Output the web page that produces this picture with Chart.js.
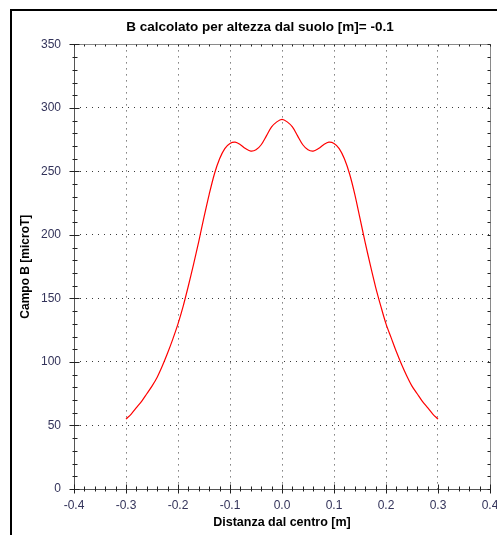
<!DOCTYPE html>
<html>
<head>
<meta charset="utf-8">
<script src="https://cdn.jsdelivr.net/npm/chart.js@4.4.0/dist/chart.umd.min.js"></script>
<style>
  html, body { margin: 0; padding: 0; background: #fff; overflow: hidden; }
  #cornice { position: absolute; left: 10px; top: 9px; width: 600px; height: 600px;
             border-left: 2px solid #000; border-top: 2px solid #000; }
  #grafico { position: absolute; left: 0; top: 0; }
</style>
</head>
<body>
<div id="cornice"></div>
<canvas id="grafico" width="520" height="535"></canvas>
<script>
// distanza dal centro [m]
const distanze = [
  -0.30, -0.29, -0.28, -0.27, -0.26, -0.25, -0.24, -0.23, -0.22, -0.21,
  -0.20, -0.19, -0.18, -0.17, -0.16, -0.15, -0.14, -0.13, -0.12, -0.11,
  -0.10, -0.09, -0.08, -0.07, -0.06, -0.05, -0.04, -0.03, -0.02, -0.01,
   0.00,
   0.01,  0.02,  0.03,  0.04,  0.05,  0.06,  0.07,  0.08,  0.09,  0.10,
   0.11,  0.12,  0.13,  0.14,  0.15,  0.16,  0.17,  0.18,  0.19,  0.20,
   0.21,  0.22,  0.23,  0.24,  0.25,  0.26,  0.27,  0.28,  0.29,  0.30
];
// campo B [microT]
const campoB = [
  55, 59, 64, 69, 75, 81, 88, 97, 107, 118,
  130, 144, 160, 177, 195, 214, 232, 248, 260, 268,
  272, 273, 271, 268, 266, 267, 271, 278, 285, 289,
  291,
  289, 285, 278, 271, 267, 266, 268, 271, 273, 272,
  268, 260, 248, 232, 213, 194, 176, 159, 144, 130,
  119, 108, 98, 89, 81, 75, 69, 64, 59, 55
];

const titolo = 'B calcolato per altezza dal suolo [m]= -0.1';
const titoloX = 'Distanza dal centro [m]';
const titoloY = 'Campo B [microT]';

const xMin = -0.4, xMax = 0.4, xPasso = 0.02;
const yMin = 0, yMax = 350, yPasso = 10;

const font = 'Liberation Sans';
const coloreTick = '#33335a';

const isMaggioreX = v => Math.abs(Math.round(v * 100)) % 10 === 0;
const isMaggioreY = v => Math.round(v) % 50 === 0;

// assi, bordi e tacche come nel grafico originale
const assiPlugin = {
  id: 'assi',
  afterDraw(chart) {
    const { ctx, chartArea: a, scales: { x, y } } = chart;
    const top = Math.round(a.top) + 0.5, bottom = Math.round(a.bottom) + 0.5;
    const left = Math.round(a.left) + 0.5, right = Math.round(a.right) + 0.5;
    ctx.save();
    ctx.lineWidth = 1;
    ctx.strokeStyle = '#8a8a8a';
    ctx.beginPath();
    ctx.moveTo(left, top); ctx.lineTo(right, top); ctx.lineTo(right, bottom);
    ctx.stroke();
    ctx.strokeStyle = '#555';
    ctx.beginPath();
    ctx.moveTo(left, top); ctx.lineTo(left, bottom); ctx.lineTo(right, bottom);
    ctx.stroke();

    ctx.strokeStyle = '#222';
    ctx.beginPath();
    x.ticks.forEach(t => {
      const px = Math.round(x.getPixelForValue(t.value)) + 0.5;
      const m = isMaggioreX(t.value);
      ctx.moveTo(px, bottom + (m ? 4 : 2)); ctx.lineTo(px, bottom - (m ? 5 : 3));
      ctx.moveTo(px, top); ctx.lineTo(px, top + 2);
    });
    y.ticks.forEach(t => {
      const py = Math.round(y.getPixelForValue(t.value)) + 0.5;
      const m = isMaggioreY(t.value);
      ctx.moveTo(left - (m ? 5 : 2), py); ctx.lineTo(left + (m ? 5 : 3), py);
      ctx.moveTo(right, py); ctx.lineTo(right - 3, py);
    });
    ctx.stroke();
    ctx.restore();
  }
};

new Chart(document.getElementById('grafico'), {
  type: 'line',
  data: {
    datasets: [{
      data: distanze.map((d, i) => ({ x: d, y: campoB[i] })),
      borderColor: '#ff0000',
      borderWidth: 1.2,
      pointRadius: 0,
      tension: 0.3,
      fill: false
    }]
  },
  options: {
    responsive: false,
    animation: false,
    layout: { padding: { left: 30, right: 30, top: 0, bottom: 0 } },
    plugins: {
      legend: { display: false },
      tooltip: { enabled: false },
      title: {
        display: true,
        text: titolo,
        color: '#000',
        font: { family: font, size: 13.5, weight: 'bold' },
        padding: { top: 19, bottom: 9.2 }
      }
    },
    scales: {
      x: {
        type: 'linear',
        min: xMin,
        max: xMax,
        afterFit: s => { s.height = 46; },
        ticks: {
          stepSize: xPasso,
          autoSkip: false,
          maxRotation: 0,
          padding: 9,
          color: coloreTick,
          font: { family: font, size: 12 },
          callback: v => isMaggioreX(v) ? v.toFixed(1) : ''
        },
        grid: {
          drawTicks: false,
          lineWidth: 1,
          color: c => (c.tick && isMaggioreX(c.tick.value) && Math.abs(Math.round(c.tick.value * 100)) !== 40) ? '#3a3a3a' : 'rgba(0,0,0,0)'
        },
        border: { display: false, dash: [1, 5] },
        title: {
          display: true,
          text: titoloX,
          color: '#000',
          font: { family: font, size: 12.5, weight: 'bold' },
          padding: { top: 0, bottom: 5 }
        }
      },
      y: {
        min: yMin,
        max: yMax,
        afterFit: s => { s.width = 44; },
        ticks: {
          stepSize: yPasso,
          autoSkip: false,
          padding: 13,
          color: coloreTick,
          font: { family: font, size: 12 },
          callback: v => isMaggioreY(v) ? String(v) : ''
        },
        grid: {
          drawTicks: false,
          lineWidth: 1,
          color: c => (c.tick && isMaggioreY(c.tick.value) && c.tick.value !== 0 && c.tick.value !== 350) ? '#3a3a3a' : 'rgba(0,0,0,0)'
        },
        border: { display: false, dash: [1, 5] },
        title: {
          display: true,
          text: titoloY,
          color: '#000',
          font: { family: font, size: 12, weight: 'bold' },
          padding: { top: -12, bottom: 0 }
        }
      }
    }
  },
  plugins: [assiPlugin]
});
</script>
</body>
</html>
